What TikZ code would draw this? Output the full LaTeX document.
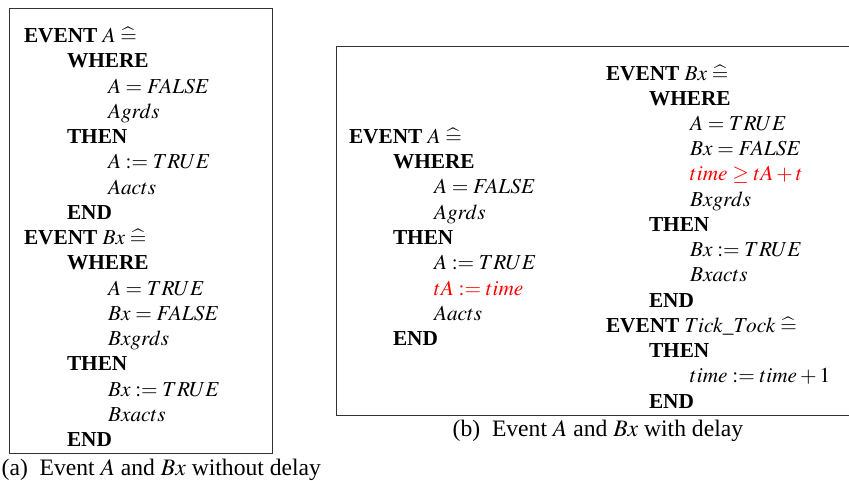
\documentclass[tikz,border=0pt]{standalone}
\usepackage{mathptmx}
\usepackage{fontspec}
\setmainfont{Liberation Serif}
\tikzset{
  ln/.style={anchor=base west, inner sep=0pt, outer sep=0pt, font=\fontsize{21.3}{25}\selectfont},
  captext/.style={anchor=base west, inner sep=0pt, outer sep=0pt, font=\fontsize{23.6}{28}\selectfont},
  frame/.style={line width=1pt, draw=black!80},
  hl/.style={text=red}
}
\newcommand{\kw}[1]{\textbf{#1}}
\newcommand{\defeq}{\mathrel{\widehat{=}}}
\begin{document}
\begin{tikzpicture}[x=1pt,y=-1pt]
\useasboundingbox (0,0) rectangle (849,480);
% ---------- (a) ----------
\draw[frame] (9.8,8.3) rectangle (272.3,453.3);
\node[ln] (a1)  at (24,42.5)    {\kw{EVENT} $A\defeq$};
\node[ln] (a2)  at (67,67.75)   {\kw{WHERE}};
\node[ln] (a3)  at (108,93)     {$A=FALSE$};
\node[ln] (a4)  at (108,118.25) {$Agrds$};
\node[ln] (a5)  at (67,143.5)   {\kw{THEN}};
\node[ln] (a6)  at (108,168.75) {$A:=TRUE$};
\node[ln] (a7)  at (108,194)    {$Aacts$};
\node[ln] (a8)  at (67,219.25)  {\kw{END}};
\node[ln] (a9)  at (24,244.5)   {\kw{EVENT} $Bx\defeq$};
\node[ln] (a10) at (67,269.75)  {\kw{WHERE}};
\node[ln] (a11) at (108,295)    {$A=TRUE$};
\node[ln] (a12) at (108,320.25) {$Bx=FALSE$};
\node[ln] (a13) at (108,345.5)  {$Bxgrds$};
\node[ln] (a14) at (67,370.75)  {\kw{THEN}};
\node[ln] (a15) at (108,396)    {$Bx:=TRUE$};
\node[ln] (a16) at (108,421.25) {$Bxacts$};
\node[ln] (a17) at (67,446.5)   {\kw{END}};
\node[captext] (capa) at (1.7,475) {(a)\hspace{0.5em}Event $A$ and $Bx$ without delay};
% ---------- (b) ----------
\draw[frame] (855,46) -- (336.7,46) -- (336.7,415.7) -- (855,415.7);
\node[ln] (b1) at (349,143.3)   {\kw{EVENT} $A\defeq$};
\node[ln] (b2) at (393,168.6)   {\kw{WHERE}};
\node[ln] (b3) at (434,193.9)   {$A=FALSE$};
\node[ln] (b4) at (434,219.2)   {$Agrds$};
\node[ln] (b5) at (393,244.5)   {\kw{THEN}};
\node[ln] (b6) at (434,269.8)   {$A:=TRUE$};
\node[ln,hl] (b7) at (434,295.1) {$tA:=time$};
\node[ln] (b8) at (434,320.4)   {$Aacts$};
\node[ln] (b9) at (393,345.7)   {\kw{END}};
\node[ln] (c1)  at (606,80)     {\kw{EVENT} $Bx\defeq$};
\node[ln] (c2)  at (649,105.2)  {\kw{WHERE}};
\node[ln] (c3)  at (690,130.5)  {$A=TRUE$};
\node[ln] (c4)  at (690,155.7)  {$Bx=FALSE$};
\node[ln,hl] (c5) at (690,180.9) {$time\geq tA+t$};
\node[ln] (c6)  at (690,206.2)  {$Bxgrds$};
\node[ln] (c7)  at (649,231.4)  {\kw{THEN}};
\node[ln] (c8)  at (690,256.6)  {$Bx:=TRUE$};
\node[ln] (c9)  at (690,281.8)  {$Bxacts$};
\node[ln] (c10) at (649,307.1)  {\kw{END}};
\node[ln] (c11) at (606,332.3)  {\kw{EVENT} $Tick\_Tock\defeq$};
\node[ln] (c12) at (649,357.5)  {\kw{THEN}};
\node[ln] (c13) at (690,382.8)  {$time:=time+1$};
\node[ln] (c14) at (649,408)    {\kw{END}};
\node[captext] (capb) at (452.7,436.7) {(b)\hspace{0.5em}Event $A$ and $Bx$ with delay};
\end{tikzpicture}
\end{document}
